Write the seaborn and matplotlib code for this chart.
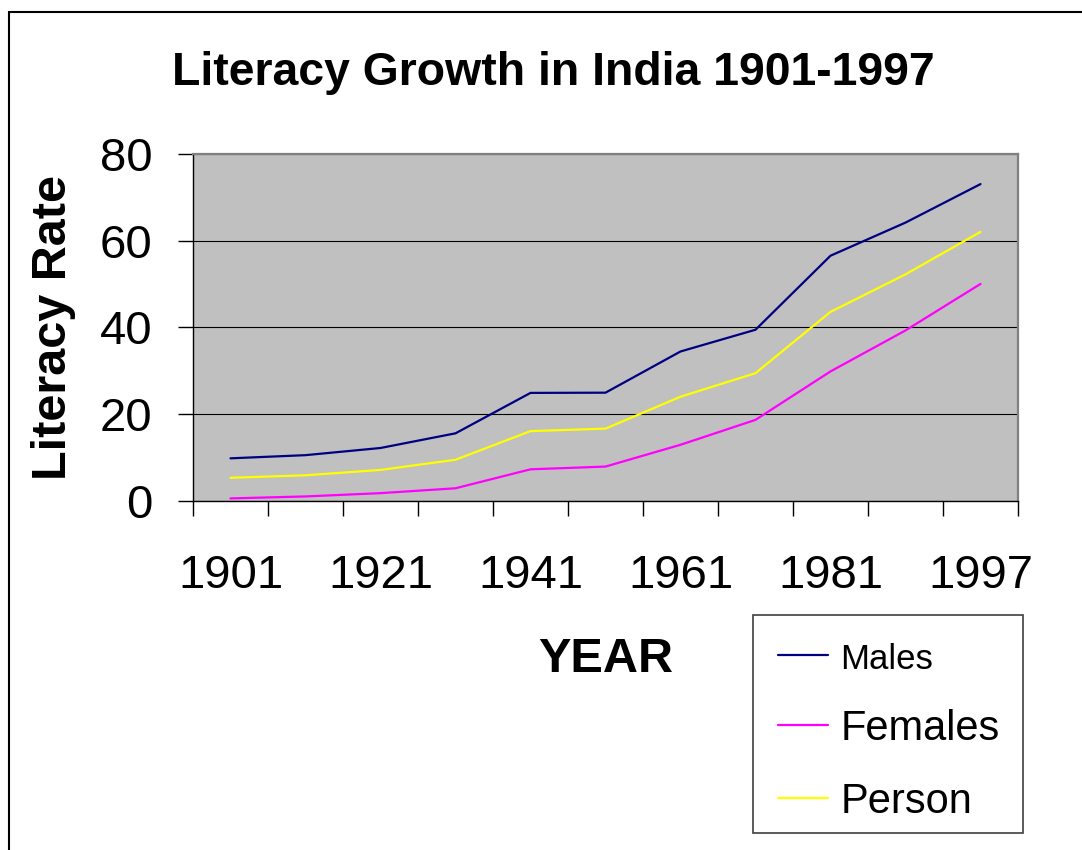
import numpy as np
import pandas as pd
import seaborn as sns
from matplotlib import pyplot as plt
from matplotlib.patches import Rectangle

years = ['1901', '1911', '1921', '1931', '1941', '1951', '1961', '1971', '1981', '1991', '1997']
males = [9.83, 10.56, 12.21, 15.59, 24.90, 24.95, 34.44, 39.45, 56.50, 64.13, 73.0]
females = [0.60, 1.05, 1.81, 2.93, 7.30, 7.93, 12.95, 18.69, 29.85, 39.29, 50.0]
person = [5.35, 5.92, 7.16, 9.50, 16.10, 16.67, 24.02, 29.45, 43.57, 52.21, 62.0]

shown_years = ['1901', '1921', '1941', '1961', '1981', '1997']
series_names = ['Males', 'Females', 'Person']
colors = {'Males': '#000080', 'Females': '#FF00FF', 'Person': '#FFFF00'}

df = pd.DataFrame({
    'Year': years * 3,
    'Rate': males + females + person,
    'Series': ['Males'] * len(years) + ['Females'] * len(years) + ['Person'] * len(years),
})

sns.set_theme(style='white')
plt.rcParams['font.family'] = ['Liberation Sans', 'DejaVu Sans']
plt.rcParams['text.color'] = 'black'
plt.rcParams['axes.labelcolor'] = 'black'
plt.rcParams['xtick.color'] = 'black'
plt.rcParams['ytick.color'] = 'black'

fig = plt.figure(figsize=(10.82, 8.5), dpi=100)
ax = fig.add_axes([193 / 1082, 1 - 501 / 850, 825 / 1082, 347.3 / 850])
ax.set_facecolor('#C0C0C0')

sns.lineplot(data=df, x='Year', y='Rate', hue='Series', hue_order=series_names,
             palette=colors, linewidth=1.6, ax=ax)

# axes
ax.set_ylim(0, 80)
ax.set_yticks([0, 20, 40, 60, 80])
ax.set_xlim(-0.5, 10.5)
ax.set_xticks([0, 2, 4, 6, 8, 10])
ax.set_xticklabels(shown_years)
ax.set_xticks(np.arange(-0.5, 11, 1), minor=True)
ax.tick_params(axis='x', which='major', length=0, pad=38, labelsize=34, colors='black')
ax.tick_params(axis='x', which='minor', length=11, width=1, color='black', direction='out', bottom=True)
ax.tick_params(axis='y', which='major', length=11, width=1, color='black', direction='out', left=True,
               pad=18, labelsize=34, labelcolor='black')
ax.yaxis.grid(True, color='black', linewidth=0.8)
ax.xaxis.grid(False)

for side in ['top', 'right']:
    ax.spines[side].set_color('#808080')
    ax.spines[side].set_linewidth(1.6)
for side in ['left', 'bottom']:
    ax.spines[side].set_color('black')
    ax.spines[side].set_linewidth(1.0)

ax.set_ylabel('Literacy Rate', fontsize=35, fontweight='bold', labelpad=17, color='black')
ax.set_xlabel('YEAR', fontsize=35, fontweight='bold', labelpad=28, color='black')

fig.text(553 / 1082, 1 - 85 / 850, 'Literacy Growth in India 1901-1997',
         ha='center', va='baseline', fontsize=33.4, fontweight='bold', color='black')

# legend (frame drawn separately to match the box size)
sns.move_legend(ax, loc='upper left', bbox_to_anchor=(753 / 1082, 1 - 615 / 850),
                bbox_transform=fig.transFigure, title=None, fontsize=30,
                frameon=False, borderpad=0.6, handlelength=1.2, handletextpad=0.3,
                labelspacing=0.79, borderaxespad=0)
leg = ax.get_legend()
leg.get_texts()[0].set_fontsize(25)
for t in leg.get_texts():
    t.set_color('black')
for line in leg.get_lines():
    line.set_linewidth(1.6)

fig.patches.append(Rectangle((753 / 1082, 1 - 833 / 850), 270 / 1082, 218 / 850,
                             transform=fig.transFigure, fill=False,
                             edgecolor='#404040', linewidth=1.2))

# outer chart border
fig.patches.append(Rectangle((9 / 1082, -0.2), 2, 0.2 + 1 - 12 / 850, transform=fig.transFigure,
                             fill=False, edgecolor='black', linewidth=1.5))

plt.savefig('out.png', dpi=100)
